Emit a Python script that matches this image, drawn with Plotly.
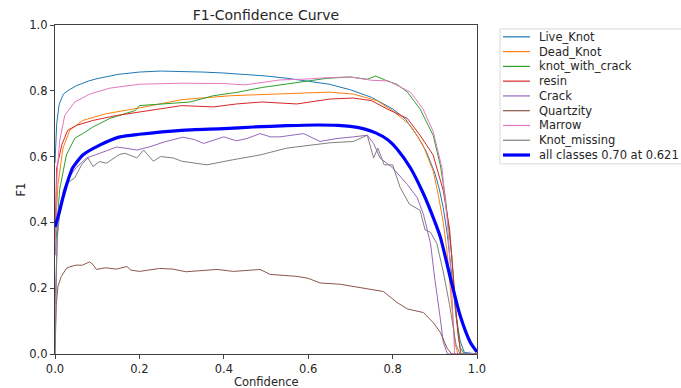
import plotly.graph_objects as go

# ---------------- data ----------------
names = ["Live_Knot", "Dead_Knot", "knot_with_crack", "resin", "Crack",
         "Quartzity", "Marrow", "Knot_missing"]
colors = ["#1f77b4", "#ff7f0e", "#2ca02c", "#d62728", "#9467bd",
          "#8c564b", "#e377c2", "#7f7f7f"]

live_knot_x = [0, 0.004, 0.01, 0.02, 0.03, 0.05, 0.08, 0.1, 0.15, 0.2, 0.25, 0.3, 0.35, 0.4, 0.45, 0.5,
               0.55, 0.6, 0.65, 0.7, 0.75, 0.8, 0.83, 0.86, 0.88, 0.9, 0.91, 0.92, 0.93, 0.94, 0.95,
               0.96, 0.97, 1.0]
live_knot_y = [0.58, 0.70, 0.76, 0.79, 0.80, 0.815, 0.83, 0.837, 0.85, 0.857, 0.86, 0.859, 0.857, 0.854,
               0.85, 0.845, 0.838, 0.83, 0.82, 0.803, 0.78, 0.745, 0.715, 0.66, 0.615, 0.55, 0.505,
               0.445, 0.36, 0.24, 0.12, 0.04, 0.005, 0.0]

dead_knot_x = [0, 0.007, 0.019, 0.035, 0.066, 0.12, 0.2, 0.3, 0.415, 0.533, 0.65, 0.707, 0.763, 0.8,
               0.842, 0.872, 0.896, 0.908, 0.92, 0.93, 0.94, 0.948, 0.955, 1.0]
dead_knot_y = [0.35, 0.515, 0.626, 0.68, 0.71, 0.73, 0.748, 0.773, 0.785, 0.79, 0.796, 0.79, 0.77, 0.74,
               0.695, 0.635, 0.557, 0.485, 0.40, 0.30, 0.15, 0.03, 0.0, 0.0]

kwc_x = [0, 0.011, 0.027, 0.047, 0.066, 0.09, 0.13, 0.177, 0.19, 0.2, 0.248, 0.32, 0.375, 0.43, 0.49,
         0.58, 0.645, 0.7, 0.74, 0.76, 0.787, 0.81, 0.835, 0.865, 0.896, 0.913, 0.925, 0.94, 0.95,
         0.96, 0.97, 1.0]
kwc_y = [0.3, 0.5, 0.605, 0.656, 0.67, 0.69, 0.716, 0.736, 0.74, 0.755, 0.76, 0.766, 0.785, 0.795, 0.81,
         0.826, 0.838, 0.842, 0.835, 0.845, 0.83, 0.82, 0.796, 0.745, 0.665, 0.575, 0.476, 0.3, 0.12,
         0.02, 0.0, 0.0]

resin_x = [0, 0.004, 0.016, 0.03, 0.051, 0.09, 0.146, 0.225, 0.30, 0.375, 0.43, 0.49, 0.573, 0.652,
           0.707, 0.75, 0.787, 0.835, 0.865, 0.896, 0.92, 0.935, 0.945, 0.955, 0.962, 1.0]
resin_y = [0.35, 0.566, 0.635, 0.68, 0.695, 0.71, 0.725, 0.74, 0.755, 0.751, 0.76, 0.766, 0.76, 0.775,
           0.778, 0.77, 0.745, 0.716, 0.665, 0.605, 0.497, 0.38, 0.22, 0.06, 0.0, 0.0]

crack_x = [0, 0.007, 0.02, 0.035, 0.05, 0.075, 0.106, 0.146, 0.17, 0.194, 0.225, 0.26, 0.303, 0.33,
           0.352, 0.4, 0.43, 0.455, 0.486, 0.51, 0.533, 0.56, 0.589, 0.628, 0.668, 0.707, 0.74, 0.755,
           0.77, 0.8, 0.835, 0.858, 0.873, 0.89, 0.9, 0.913, 0.92, 0.93, 1.0]
crack_y = [0.15, 0.4, 0.5, 0.54, 0.566, 0.596, 0.61, 0.629, 0.625, 0.62, 0.63, 0.645, 0.659, 0.652,
           0.64, 0.66, 0.648, 0.655, 0.67, 0.66, 0.66, 0.665, 0.67, 0.646, 0.655, 0.66, 0.665, 0.64,
           0.596, 0.566, 0.515, 0.476, 0.425, 0.335, 0.228, 0.108, 0.036, 0.0, 0.0]

quartz_x = [0, 0.003, 0.007, 0.015, 0.027, 0.035, 0.05, 0.065, 0.082, 0.09, 0.098, 0.12, 0.146, 0.17,
            0.18, 0.2, 0.248, 0.28, 0.31, 0.35, 0.384, 0.423, 0.486, 0.51, 0.573, 0.6, 0.628, 0.676,
            0.73, 0.778, 0.81, 0.835, 0.873, 0.896, 0.913, 0.929, 0.94, 1.0]
quartz_y = [0.0, 0.15, 0.206, 0.236, 0.26, 0.265, 0.27, 0.27, 0.28, 0.272, 0.257, 0.262, 0.258, 0.266,
            0.255, 0.251, 0.26, 0.258, 0.25, 0.253, 0.257, 0.251, 0.257, 0.242, 0.236, 0.23, 0.216,
            0.212, 0.2, 0.19, 0.157, 0.137, 0.126, 0.096, 0.066, 0.018, 0.0, 0.0]

marrow_x = [0, 0.005, 0.011, 0.023, 0.047, 0.082, 0.13, 0.2, 0.3, 0.4, 0.45, 0.533, 0.6, 0.645, 0.7,
            0.75, 0.79, 0.842, 0.872, 0.896, 0.917, 0.93, 0.94, 0.947, 1.0]
marrow_y = [0.3, 0.55, 0.647, 0.725, 0.766, 0.79, 0.808, 0.82, 0.823, 0.822, 0.818, 0.833, 0.836, 0.84,
            0.842, 0.832, 0.83, 0.796, 0.745, 0.677, 0.566, 0.4, 0.2, 0.0, 0.0]

missing_x = [0, 0.005, 0.015, 0.03, 0.047, 0.063, 0.078, 0.09, 0.106, 0.122, 0.145, 0.154, 0.166, 0.194,
             0.21, 0.233, 0.25, 0.28, 0.3, 0.36, 0.42, 0.486, 0.55, 0.573, 0.628, 0.652, 0.707, 0.74,
             0.755, 0.765, 0.78, 0.8, 0.818, 0.83, 0.84, 0.865, 0.877, 0.89, 0.905, 0.92, 0.935, 0.95,
             0.96, 1.0]
missing_y = [0.0, 0.35, 0.47, 0.52, 0.536, 0.575, 0.596, 0.57, 0.585, 0.58, 0.6, 0.607, 0.61, 0.596,
             0.62, 0.586, 0.6, 0.596, 0.586, 0.575, 0.59, 0.605, 0.626, 0.63, 0.64, 0.642, 0.646, 0.665,
             0.596, 0.626, 0.575, 0.575, 0.506, 0.48, 0.455, 0.437, 0.377, 0.37, 0.335, 0.25, 0.15,
             0.03, 0.0, 0.0]

all_x = [0, 0.01, 0.019, 0.03, 0.042, 0.066, 0.106, 0.154, 0.2, 0.3, 0.4, 0.47, 0.55, 0.621, 0.67,
         0.7, 0.73, 0.76, 0.79, 0.81, 0.842, 0.872, 0.89, 0.913, 0.936, 0.96, 0.984, 1.0]
all_y = [0.386, 0.43, 0.476, 0.525, 0.566, 0.605, 0.635, 0.66, 0.668, 0.68, 0.685, 0.69, 0.694, 0.696,
         0.695, 0.692, 0.685, 0.672, 0.65, 0.624, 0.566, 0.49, 0.435, 0.356, 0.236, 0.117, 0.036, 0.006]
all_label = "all classes 0.70 at 0.621"
all_color = "#0000ff"

xticks = [0.0, 0.2, 0.4, 0.6, 0.8, 1.0]
yticks = [0.0, 0.2, 0.4, 0.6, 0.8, 1.0]

series_x = [live_knot_x, dead_knot_x, kwc_x, resin_x, crack_x, quartz_x, marrow_x, missing_x]
series_y = [live_knot_y, dead_knot_y, kwc_y, resin_y, crack_y, quartz_y, marrow_y, missing_y]

# ---------------- figure ----------------
W, H = 681, 388
L, R, T, B = 55, 204, 25, 29
PW, PH = W - L - R, H - T - B
FONT = "DejaVu Sans"
TXT = "#262626"

fig = go.Figure()
for nm, c, xs, ys in zip(names, colors, series_x, series_y):
    fig.add_trace(go.Scatter(x=xs, y=ys, mode="lines", name=nm,
                             line=dict(color=c, width=1), showlegend=False))
fig.add_trace(go.Scatter(x=all_x, y=all_y, mode="lines", name=all_label,
                         line=dict(color=all_color, width=3.2, shape="spline", smoothing=0.6),
                         showlegend=False))

def px2x(px):
    return (px - L) / PW

def py2y(py):
    return (H - B - py) / PH

shapes = []
annotations = []
# legend box (matplotlib-style, extends past right edge)
shapes.append(dict(type="rect", xref="paper", yref="paper",
                   x0=px2x(500), x1=px2x(700), y0=py2y(166), y1=py2y(29),
                   line=dict(color="#d9d9d9", width=1), fillcolor="white", layer="above"))
leg_names = names + [all_label]
leg_colors = colors + [all_color]
leg_widths = [1.2] * len(names) + [3.2]
for i, (nm, c, w) in enumerate(zip(leg_names, leg_colors, leg_widths)):
    yc = 37 + 15 * i
    shapes.append(dict(type="line", xref="paper", yref="paper",
                       x0=px2x(503), x1=px2x(530), y0=py2y(yc), y1=py2y(yc),
                       line=dict(color=c, width=w), layer="above"))
    annotations.append(dict(text=nm, xref="paper", yref="paper", x=px2x(537), y=py2y(yc),
                            xanchor="left", yanchor="middle", showarrow=False,
                            font=dict(family=FONT, size=11.5, color=TXT)))

# axis titles
annotations.append(dict(text="Confidence", xref="paper", yref="paper", x=0.5, y=py2y(387),
                        xanchor="center", yanchor="middle", showarrow=False,
                        font=dict(family=FONT, size=11.5, color=TXT)))
annotations.append(dict(text="F1", xref="paper", yref="paper", x=px2x(20), y=0.5,
                        xanchor="center", yanchor="middle", showarrow=False, textangle=-90,
                        font=dict(family=FONT, size=11.5, color=TXT)))

fig.update_layout(
    width=W, height=H,
    margin=dict(l=L, r=R, t=T, b=B),
    paper_bgcolor="white", plot_bgcolor="white",
    title=dict(text="F1-Confidence Curve", x=0.5, xref="paper", xanchor="center",
               y=1 - 15 / H, yref="container", yanchor="middle",
               font=dict(family=FONT, size=14, color=TXT)),
    font=dict(family=FONT, size=11.5, color=TXT),
    shapes=shapes, annotations=annotations,
    showlegend=False,
)
axis_common = dict(range=[0, 1], showgrid=False, zeroline=False, showline=True, mirror=True,
                   linecolor="#404040", linewidth=1.2, ticks="outside", ticklen=4, tickwidth=1,
                   tickcolor="#404040", tickformat=".1f",
                   tickfont=dict(family=FONT, size=11.5, color=TXT))
fig.update_xaxes(tickvals=xticks, **axis_common)
fig.update_yaxes(tickvals=yticks, **axis_common)

fig.write_html("out.html")
